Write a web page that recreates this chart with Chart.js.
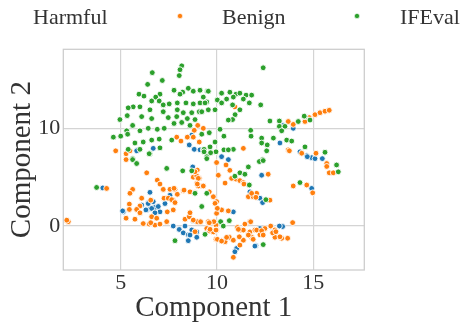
<!DOCTYPE html>
<html>
<head>
<meta charset="utf-8">
<script src="https://cdn.jsdelivr.net/npm/chart.js@4.4.1/dist/chart.umd.min.js"></script>
<style>
html,body{margin:0;padding:0;background:#fff;}
canvas{display:block;}
</style>
</head>
<body>
<canvas id="c" width="463" height="324"></canvas>
<script>
// ---- data (Component 1, Component 2) ----
const seriesNames = ['Harmful', 'Benign', 'IFEval'];
const xTicks = [5, 10, 15];
const yTicks = [0, 10];

const harmful = [
[6.69,7.95],[5.88,7.8],[8.82,7.85],[8.56,8.3],[9.12,7.8],[8.69,9.3],
[13.27,8.5],[13.96,10.0],[14.31,7.6],[13.44,10.3],
[14.66,7.2],[14.92,7.0],[15.09,6.9],[15.47,6.9],[14.69,7.1],[15.70,6.25],[14.92,3.85],
[13.41,-0.05],[12.32,5.2],[11.71,3.5],[12.23,2.85],[12.37,2.4],[10.59,6.8],[10.24,7.1],
[10.85,1.45],[13.24,0.0],[12.02,-2.0],[11.02,-2.3],[12.23,-0.25],
[5.83,7.7],[6.52,3.45],[5.14,1.45],[6.09,2.15],[6.43,2.4],[6.38,1.7],[6.78,1.9],[7.04,1.45],
[7.56,3.15],[7.73,0.0],[8.04,-0.35],[8.25,-0.7],[8.51,-0.9],[8.34,0.0],[8.69,-0.4],[8.95,-0.6],
[8.95,-1.15],[8.51,-1.5],[8.77,0.55],[8.74,6.05],[4.07,3.9],
[6.43,2.3],[6.69,2.5],[6.61,1.8],[6.95,2.0],[7.30,2.3],[6.78,1.35],[6.31,1.65],
[8.60,-0.92],[10.93,-2.63],[12.84,-0.07],[11.97,-2.05],[5.10,1.55]
];

const benign = [
[9.00,10.3],[8.82,9.8],[7.91,9.1],[8.13,8.7],[8.46,9.1],[8.77,9.1],[9.08,8.6],[4.74,7.7],[5.28,7.4],[9.29,10.0],
[13.96,10.4],[13.70,10.7],[14.57,10.7],[11.37,7.95],[13.70,7.8],[10.93,12.2],
[14.79,11.1],[15.09,11.4],[15.35,11.6],[15.61,11.75],[15.83,11.85],
[14.40,7.45],[15.14,7.45],[15.70,6.4],[15.70,6.1],[15.83,5.45],[16.04,5.45],[13.76,7.7],
[13.96,4.1],[14.66,4.2],[14.97,3.4],
[13.93,0.35],[13.67,-1.25],[12.66,5.3],[12.06,3.35],[12.75,2.65],[11.63,3.0],[11.88,3.0],
[10.99,4.8],[11.19,4.65],[11.37,4.45],[10.47,6.25],[10.67,5.7],[10.42,4.4],[9.98,6.5],
[9.26,4.1],[9.60,3.5],[9.81,3.0],[9.98,2.5],[10.24,1.65],[10.59,1.55],[9.98,1.3],
[9.95,0.1],[9.55,0.45],[9.12,0.45],[9.47,-0.25],[9.60,-0.5],[9.81,-0.6],[9.95,-1.35],
[10.24,-1.5],[10.42,-1.6],[10.64,-1.15],[10.85,-1.45],[11.06,-0.15],[11.23,-0.4],[11.45,0.2],
[11.71,0.45],[11.71,-0.6],[11.97,-0.4],[12.23,-0.9],[12.49,-0.25],[12.79,0.0],[13.01,-0.4],
[13.01,-1.15],[13.36,-1.25],[11.80,-1.15],[11.37,-1.45],[11.19,-1.95],[10.85,-3.2],[12.89,-0.7],
[5.48,7.7],[5.28,6.8],[6.35,5.45],[6.90,4.7],[7.04,4.3],[4.27,3.85],[5.62,3.75],[5.48,3.35],
[6.09,2.85],[5.45,2.25],[5.45,1.7],[5.28,0.8],[5.74,0.7],[6.00,1.3],[6.56,2.65],[7.42,1.45],
[7.73,1.65],[7.25,2.85],[7.47,2.85],[7.73,2.65],[7.21,3.75],[7.82,3.75],[8.25,3.6],[7.94,3.25],
[6.61,0.95],[6.17,0.25],[6.48,0.2],[6.78,0.1],[7.04,0.2],[6.87,0.8],[7.39,0.45],[8.34,0.7],
[8.56,0.95],[9.84,0.45],[9.98,-0.4],[8.60,3.5],[9.03,4.1],[8.77,5.0],[9.08,4.9],[8.95,4.4],
[10.07,5.2],[2.28,0.45],[2.20,0.6],
[6.00,2.05],[7.65,2.7],[7.82,2.4],[5.83,1.7],[6.00,1.35],[6.56,0.34],[8.60,1.36],[8.98,0.44],
[7.56,3.76],[7.77,3.86],[8.29,3.68],[8.95,5.12],[8.98,5.73],
[8.86,5.56],[9.03,4.88],[8.98,4.3],[9.29,4.1],[10.76,4.88],[11.40,4.3],[11.80,3.35],[12.02,2.94],
[8.86,3.41],[9.90,2.32],[10.02,1.81],[8.77,0.61],[9.15,0.44],[9.60,0.34],[9.64,-0.34],[9.95,-0.41],
[10.02,-1.36],[10.24,-1.54],[10.50,-1.16],[8.86,-0.58],[11.63,-0.92],[11.88,-1.36],[11.75,0.44],
[11.37,-0.41],[11.11,-0.34],[11.16,-1.1],[12.06,-0.41],[12.32,-0.48],[12.40,-0.92],[13.06,-0.58],
[13.27,-1.1]
];

const ifeval = [
[8.17,16.4],[8.08,16.0],[6.64,15.7],[8.04,15.4],[6.40,14.5],[7.16,14.9],[8.51,14.1],[7.77,13.9],
[8.22,13.7],[8.77,13.8],[9.12,13.9],[9.50,13.8],[7.04,13.5],[8.08,13.5],[5.95,13.5],[6.21,13.3],
[6.82,13.2],[6.61,12.8],[7.00,12.8],[7.21,12.4],[7.52,12.5],[7.94,12.6],[8.39,12.6],[8.77,12.5],
[9.12,12.6],[9.47,12.7],[5.65,12.2],[6.00,12.2],[5.39,12.1],[6.52,11.9],[7.21,11.7],[7.94,11.9],
[8.25,11.6],[8.69,11.6],[9.08,11.7],[9.55,11.9],[5.34,11.3],[6.09,11.2],[6.61,11.0],[7.47,11.1],
[7.91,11.2],[8.46,11.0],[8.86,10.9],[4.96,10.9],[7.77,10.5],[8.17,10.6],[5.62,10.3],[8.60,10.3],
[6.43,10.0],[6.90,9.9],[7.26,10.0],[5.31,9.75],[6.00,9.75],[4.62,9.1],[5.00,9.2],[5.74,8.5],
[6.17,8.6],[6.61,8.8],[7.00,8.9],[7.65,8.8],[5.39,7.85],[6.00,7.85],[6.52,7.4],[7.04,8.0],
[5.62,6.9],[9.29,7.8],[9.47,7.1],[5.36,9.4],
[12.40,16.2],[9.55,13.8],[10.24,13.6],[10.67,13.7],[10.99,13.5],[11.19,13.6],[11.51,13.4],[11.80,13.4],
[9.29,13.2],[10.02,12.9],[10.50,13.0],[10.85,13.2],[11.37,13.0],[11.68,12.6],[9.38,12.6],[9.90,11.9],
[10.24,12.6],[10.81,12.4],[12.27,12.4],[11.19,11.9],[9.21,11.7],[10.94,11.4],[10.81,10.9],[10.59,10.85],
[12.75,10.75],[13.24,10.75],[13.24,10.2],[13.53,10.2],[14.22,10.7],[14.57,11.2],[13.36,9.75],[9.60,9.55],
[10.16,9.9],[10.36,9.2],[9.21,9.4],[9.90,8.6],[11.75,9.8],[11.77,9.2],[9.64,8.1],[10.36,7.8],
[12.32,9.0],[12.32,8.5],[12.61,8.3],[12.93,9.0],[12.58,7.7],[13.62,8.8],[13.88,8.7],[14.57,8.1],
[9.33,7.85],[10.85,7.85],[10.59,7.8],[9.95,7.6],[12.37,6.8],
[14.53,11.25],[14.83,10.85],[15.61,7.55],[16.21,6.25],[16.30,5.55],[14.31,4.45],
[11.63,6.05],[12.20,6.6],[12.40,6.7],[11.68,4.2],[12.54,2.7],[11.19,5.45],[10.93,5.1],[11.45,5.3],
[9.47,6.9],[9.67,7.5],[9.47,3.35],[9.21,2.0],[10.19,0.45],[10.64,0.55],[10.33,0.0],[9.38,-0.85],
[12.40,-1.9],[6.48,7.4],[5.62,6.8],[5.83,6.4],[7.39,5.9],[3.75,3.95],[7.82,-1.5],[8.86,3.35],
[8.69,5.65],[8.22,5.65],[9.33,7.6]
];

const seriesData = [harmful, benign, ifeval];
const seriesColors = ['#1f77b4', '#ff7f0e', '#2ca02c'];

const toPts = arr => arr.map(p => ({x: p[0], y: p[1]}));

const framePlugin = {
  id: 'frame',
  afterDatasetsDraw(chart) {
    const {ctx, chartArea: a} = chart;
    ctx.save();
    ctx.strokeStyle = '#cccccc';
    ctx.lineWidth = 1.25;
    ctx.strokeRect(a.left, a.top, a.right - a.left, a.bottom - a.top);
    ctx.restore();
  }
};

// legend laid out like the matplotlib "expand" legend of the reference
const legendPlugin = {
  id: 'sideLegend',
  afterDraw(chart) {
    const ctx = chart.ctx;
    const textX = [33, 222, 400];
    const markX = [null, 180, 357];
    ctx.save();
    ctx.font = '22px "Liberation Serif"';
    ctx.fillStyle = '#333333';
    ctx.textBaseline = 'alphabetic';
    ctx.textAlign = 'left';
    chart.data.datasets.forEach((ds, i) => {
      ctx.fillStyle = '#333333';
      ctx.fillText(ds.label, textX[i], 24);
      if (markX[i] !== null) {
        ctx.beginPath();
        ctx.arc(markX[i], 16, 2.6, 0, Math.PI * 2);
        ctx.fillStyle = ds.backgroundColor;
        ctx.fill();
        ctx.strokeStyle = '#ffffff';
        ctx.lineWidth = 0.6;
        ctx.stroke();
      }
    });
    ctx.restore();
  }
};

const tickFont = {family: '"Liberation Serif"', size: 22};
const titleFont = {family: '"Liberation Serif"', size: 29, lineHeight: 1};

new Chart(document.getElementById('c'), {
  type: 'scatter',
  data: {
    datasets: seriesNames.map((name, i) => ({
      label: name,
      data: toPts(seriesData[i]),
      backgroundColor: seriesColors[i],
      borderColor: '#ffffff',
      borderWidth: 0.9,
      pointRadius: 2.9,
      order: 3 - i
    }))
  },
  options: {
    responsive: false,
    animation: false,
    layout: {padding: {left: 0, right: 98.7, top: 49.3, bottom: 0}},
    plugins: {legend: {display: false}, tooltip: {enabled: false}},
    scales: {
      x: {
        type: 'linear', min: 2.02, max: 17.65,
        afterBuildTicks: s => { s.ticks = xTicks.map(v => ({value: v})); },
        afterFit: s => { s.height = 54; },
        grid: {color: '#d4d4d4', lineWidth: 1.2, drawTicks: false},
        border: {display: false},
        ticks: {font: tickFont, color: '#333333', padding: 0},
        title: {display: true, text: 'Component 1', font: titleFont, color: '#333333', padding: {top: 0, bottom: 1.5}}
      },
      y: {
        type: 'linear', min: -4.5, max: 18.09,
        afterBuildTicks: s => { s.ticks = yTicks.map(v => ({value: v})); },
        afterFit: s => { s.width = 63.3; },
        grid: {color: '#d4d4d4', lineWidth: 1.2, drawTicks: false},
        border: {display: false},
        ticks: {font: tickFont, color: '#333333', padding: 3},
        title: {display: true, text: 'Component 2', font: titleFont, color: '#333333', padding: {top: 7.7, bottom: 0}}
      }
    }
  },
  plugins: [framePlugin, legendPlugin]
});
</script>
</body>
</html>
